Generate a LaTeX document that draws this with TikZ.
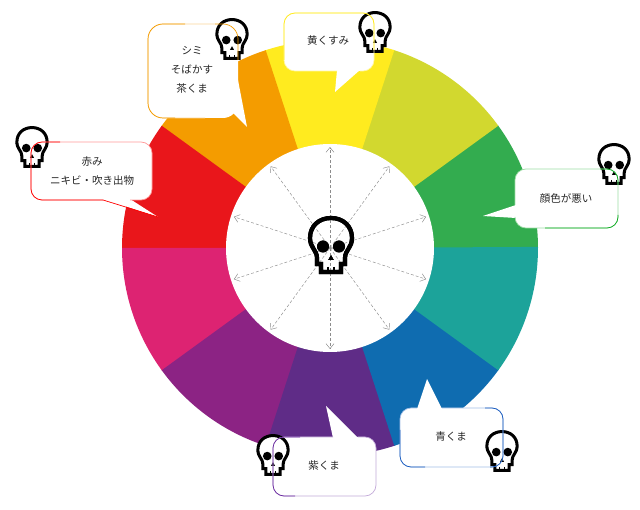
\documentclass[tikz,border=0pt]{standalone}
\usepackage{fontspec}
\usetikzlibrary{arrows.meta,calc}
\newfontfamily\cjk{Noto Sans CJK JP}
\definecolor{cY}{HTML}{FFEB1F}
\definecolor{cL}{HTML}{D2D82F}
\definecolor{cG}{HTML}{33AC4F}
\definecolor{cT}{HTML}{1CA39A}
\definecolor{cB}{HTML}{0F6CB0}
\definecolor{cV}{HTML}{5F2C87}
\definecolor{cP}{HTML}{8C2384}
\definecolor{cK}{HTML}{DD2372}
\definecolor{cR}{HTML}{E9161B}
\definecolor{cO}{HTML}{F49C00}
\definecolor{lnG}{HTML}{0CAA20}
\definecolor{lnB}{HTML}{1A5CC0}
\definecolor{lnV}{HTML}{6A2AA0}
\newcommand\skullshape[4]{% x, y, scale, fill
  \begin{scope}[shift={(#1,#2)},scale=#3]
    \draw[black,fill=#4,line width=#3*4.2pt,line join=miter]
      (-21,-7) .. controls (-21,-19) and (-12,-27) .. (0,-27)
      .. controls (12,-27) and (21,-19) .. (21,-7)
      .. controls (21,3) and (14,5) .. (14,13) -- (14,19) -- (10,19) -- (10,27) -- (-10,27) -- (-10,19) -- (-14,19) -- (-14,13)
      .. controls (-14,5) and (-21,3) .. cycle;
    \fill[black] (-8,1.5) circle (6) (8,1.5) circle (6) (0,10) -- (2.8,15) -- (-2.8,15) -- cycle;
    \draw[black,line width=#3*1.5pt] (-3,22) -- (-3,27) (3,22) -- (3,27);
  \end{scope}}
\tikzset{
  x=1pt,y=-1pt,
  spoke/.style={densely dashed,draw=black!45,line width=.45pt,-{Straight Barb[length=5pt,width=8pt]}},
  bubble/.style={fill=white,draw=none,rounded corners=#1},
  bubble/.default=11pt,
  tailfill/.style={fill=white,draw=none},
  faint/.style={draw=#1!40,line width=.7pt,rounded corners=11pt},
  strong/.style={draw=#1,line width=.7pt,rounded corners=11pt},
  lbl/.style={font=\cjk\fontsize{10.5}{19}\selectfont,align=center,text=black!85,inner sep=0pt},
}
\begin{document}
\begin{tikzpicture}
\useasboundingbox (0,0) rectangle (640,510);
\fill[white] (0,0) rectangle (640,510);
\coordinate (hub) at (330,248);
% wheel
\foreach \a/\c in {0/cG,36/cL,72/cY,108/cO,144/cR,180/cK,216/cP,252/cV,288/cB,324/cT}{
  \fill[\c] (hub) -- ++(-\a:208) arc[start angle=-\a,end angle=-\a-36.3,radius=208] -- cycle;
}
\fill[white] (hub) circle (104);
% centre skull and arrows
\skullshape{331}{245}{1}{white}
\foreach \a in {18,54,90,126,162,198,234,270,306,342}{
  \coordinate (tip\a) at ($(hub)+(-\a:101)$);
  \draw[spoke] (hub) -- (tip\a);
}
\skullshape{331}{245}{1}{none}
% bubble fills
\fill[bubble=15pt] (148,24) rectangle (238,118);
\fill[tailfill] (238,80) -- (247,127) -- (232,112) -- cycle;
\fill[bubble] (284,13) rectangle (374,71);
\fill[tailfill] (337,70) -- (335,92) -- (360,70) -- cycle;
\fill[bubble] (31,142) rectangle (152,200);
\fill[tailfill] (103,199) -- (158,217) -- (130,199) -- cycle;
\fill[bubble] (515,169) rectangle (618,228);
\fill[tailfill] (516,205) -- (483,216) -- (516,218) -- cycle;
\fill[bubble] (400,408) rectangle (503,467);
\fill[tailfill] (417,409) -- (427,379) -- (442,409) -- cycle;
\fill[bubble] (273,437) rectangle (376,496);
\fill[tailfill] (333,438) -- (326,406) -- (358,438) -- cycle;
% small skulls
\skullshape{232}{39}{.72}{white}
\skullshape{375}{32}{.72}{white}
\skullshape{32}{147}{.72}{white}
\skullshape{614}{164}{.72}{white}
\skullshape{502}{451}{.72}{white}
\skullshape{273}{455}{.72}{white}
% bubble outlines
\draw[faint=cO,rounded corners=15pt] (215,24) -- (148,24) -- (148,118) -- (205,118);
\draw[strong=cO,rounded corners=15pt] (185,24) -- (148,24) -- (148,118) -- (175,118);
\draw[strong=cO,rounded corners=15pt] (215,24) -- (238,24) -- (238,60);
\draw[faint=cY] (360,71) -- (374,71) -- (374,13) -- (284,13) -- (284,71) -- (337,71);
\draw[strong=cY] (374,50) -- (374,13) -- (284,13) -- (284,60);
\draw[faint=red] (103,200) -- (31,200) -- (31,142) -- (152,142) -- (152,200) -- (130,200);
\draw[strong=red] (60,142) -- (31,142) -- (31,200) -- (103,200);
\draw[red,line width=.7pt] (103,200) -- (158,217);
\draw[faint=lnG] (515,205) -- (515,169) -- (618,169) -- (618,228) -- (515,228) -- (515,218);
\draw[strong=lnG] (618,215) -- (618,228) -- (545,228);
\draw[strong=lnG] (600,169) -- (618,169) -- (618,185);
\draw[faint=lnB] (417,408) -- (400,408) -- (400,467) -- (503,467) -- (503,408) -- (442,408);
\draw[strong=lnB] (485,408) -- (503,408) -- (503,467) -- (490,467);
\draw[strong=lnB] (425,467) -- (400,467) -- (400,430);
\draw[faint=lnV] (333,437) -- (273,437) -- (273,496) -- (376,496) -- (376,437) -- (358,437);
\draw[strong=lnV] (300,437) -- (273,437) -- (273,496) -- (295,496);
% labels
\node[lbl] (lO) at (192,70) {シミ\\そばかす\\茶くま};
\node[lbl] (lY) at (328,41) {黄くすみ};
\node[lbl] (lR) at (92,171) {赤み\\ニキビ・吹き出物};
\node[lbl] (lG) at (566,198) {顔色が悪い};
\node[lbl] (lB) at (451,437) {青くま};
\node[lbl] (lV) at (324,466) {紫くま};
\end{tikzpicture}
\end{document}
